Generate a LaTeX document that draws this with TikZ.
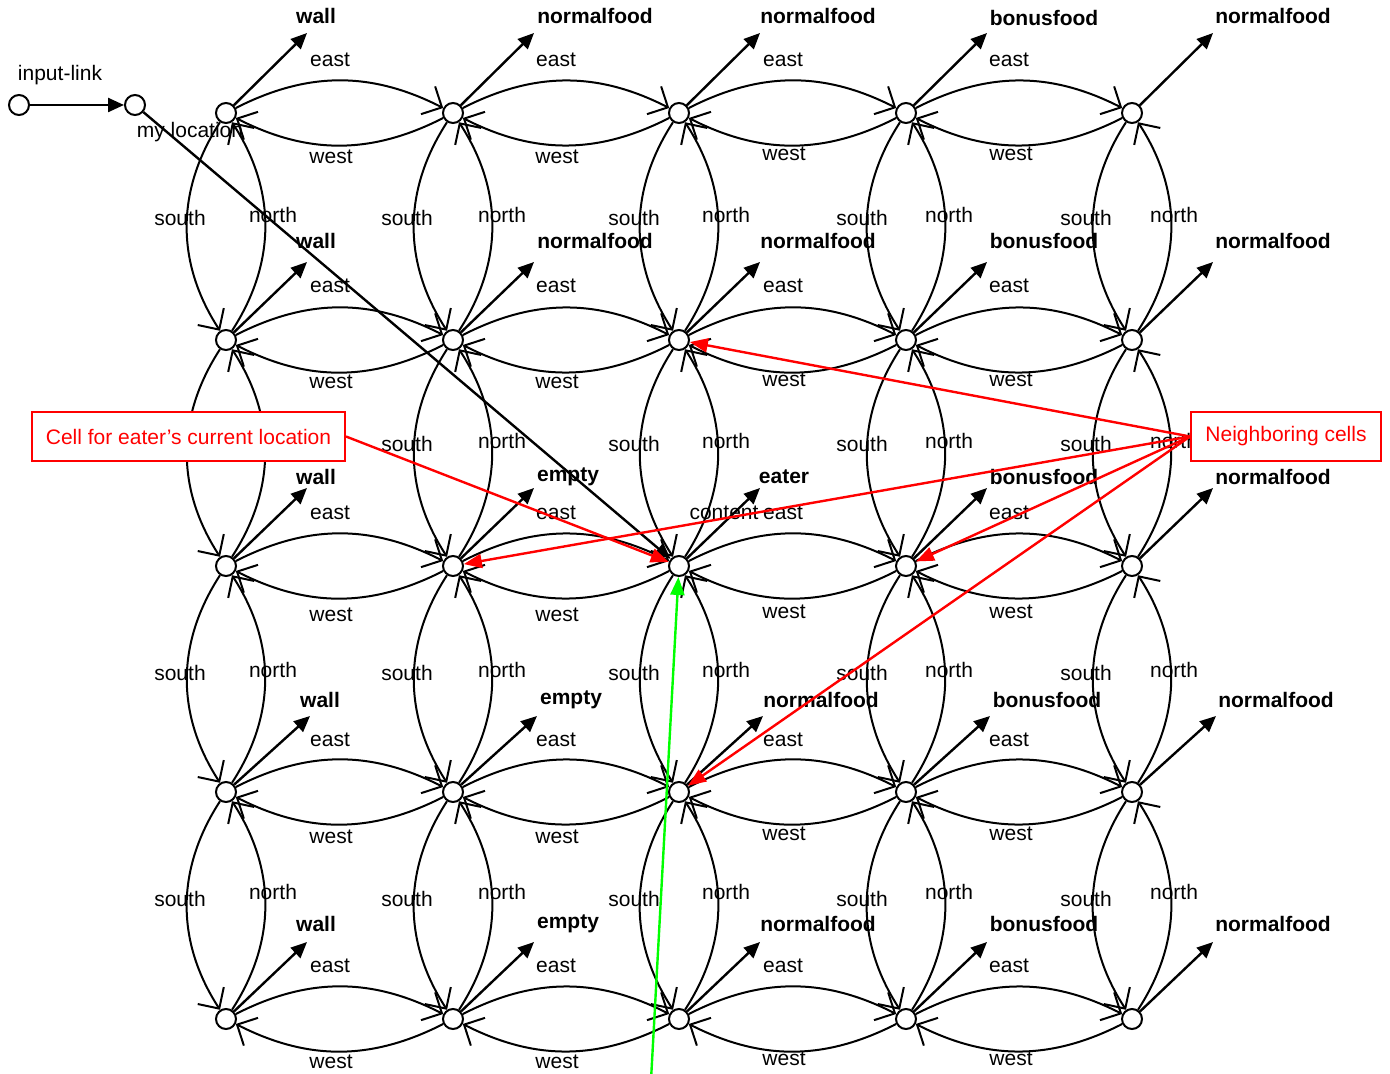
\documentclass[tikz,border=0pt]{standalone}
\usepackage{fontspec}
\setmainfont{Liberation Sans}
\usetikzlibrary{arrows.meta,calc}
\pgfdeclarelayer{background}
\pgfsetlayers{background,main}
\definecolor{annred}{RGB}{255,0,0}
\definecolor{anngreen}{RGB}{0,255,0}
\begin{document}
\begin{tikzpicture}[x=0.5pt,y=-0.5pt,
  cell/.style={circle,draw,fill=white,line width=1pt,minimum size=10pt,inner sep=0pt},
  link/.style={line width=1pt,-{Straight Barb[angle=90:11pt]}},
  valarrow/.style={line width=1.2pt,-{Triangle[length=8pt,width=7pt]}},
  lbl/.style={font=\fontsize{10.5}{12}\selectfont,inner sep=0pt},
  val/.style={font=\fontsize{10.5}{12}\selectfont\bfseries,inner sep=0pt},
  annbox/.style={draw=annred,fill=white,line width=1pt,text=annred,font=\fontsize{10.5}{12}\selectfont,minimum height=24.5pt,inner sep=0pt},
  annarrow/.style={draw=annred,line width=1.2pt,-{Triangle[length=9pt,width=7pt]},annred},
  greenarrow/.style={draw=anngreen,line width=1.2pt,-{Triangle[length=9pt,width=7pt]},anngreen}
]
\useasboundingbox (0,0) rectangle (1390,1074);
% grid cells
\foreach \ra/\yy in {1/113,2/340,3/566,4/792,5/1019}{
  \foreach \ca/\xx in {1/226,2/453,3/679,4/906,5/1132}{
    \node[cell] (g\ra\ca) at (\xx,\yy) {};
  }
}
% input link and my location
\node[cell] (in) at (19,105) {};
\node[cell] (myloc) at (135,105) {};
\node[lbl] (inlbl) at (60,75) {input-link};
\node[lbl] (myloclbl) at (190,132) {my location};
\begin{pgfonlayer}{background}
\foreach \ra in {1,2,3,4,5}{
  \foreach \ca in {1,2,3,4}{
    \pgfmathtruncatemacro{\cb}{\ca+1}
    \draw[link] (g\ra\ca) to[bend left=27] (g\ra\cb);
    \draw[link] (g\ra\cb) to[bend left=27] (g\ra\ca);
  }
}
\foreach \ra in {1,2,3,4}{
  \foreach \ca in {1,2,3,4,5}{
    \pgfmathtruncatemacro{\rb}{\ra+1}
    \draw[link] (g\ra\ca) to[bend right=33] (g\rb\ca);
    \draw[link] (g\rb\ca) to[bend right=33] (g\ra\ca);
  }
}
\end{pgfonlayer}
% value arrows
\foreach \ra/\dx/\dy in {1/81/-80,2/81/-78,3/81/-78,4/84/-76,5/81/-77}{
  \foreach \ca in {1,2,3,4,5}{
    \coordinate (t\ra\ca) at ($(g\ra\ca)+(\dx,\dy)$);
    \draw[valarrow] (g\ra\ca) -- (t\ra\ca);
  }
}
% value labels
\foreach \xx/\yy/\txt [count=\ii] in {316/16/wall,595/16/normalfood,818/16/normalfood,1044/18/bonusfood,1273/16/normalfood,316/241/wall,595/241/normalfood,818/241/normalfood,1044/241/bonusfood,1273/241/normalfood,316/477/wall,568/477/empty,784/477/eater,1044/477/bonusfood,1273/477/normalfood,320/700/wall,571/700/empty,821/700/normalfood,1047/700/bonusfood,1276/700/normalfood,316/924/wall,568/924/empty,818/924/normalfood,1044/924/bonusfood,1273/924/normalfood}{
  \node[val] (v\ii) at (\xx,\yy) {\txt};
}
\node[lbl] (contentlbl) at (724,513) {content};
% east labels
\foreach \yy [count=\ii] in {60,286,513,740,966}{
  \foreach \xx [count=\jj] in {330,556,783,1009}{
    \node[lbl] (e\ii\jj) at (\xx,\yy) {east};
  }
}
% west labels
\foreach \ya/\yb [count=\ii] in {157/154,382/380,615/612,837/834,1062/1059}{
  \node[lbl] (w\ii a) at (331,\ya) {west};
  \node[lbl] (w\ii b) at (557,\ya) {west};
  \node[lbl] (w\ii c) at (784,\yb) {west};
  \node[lbl] (w\ii d) at (1011,\yb) {west};
}
% south / north labels
\foreach \ys/\yn [count=\ii] in {218/215,444/441,673/670,899/892}{
  \ifnum\ii=2\else
  \node[lbl] (s\ii a) at (180,\ys) {south};
  \node[lbl] (n\ii a) at (273,\yn) {north};
  \fi
  \node[lbl] (s\ii b) at (407,\ys) {south};
  \node[lbl] (n\ii b) at (502,\yn) {north};
  \node[lbl] (s\ii c) at (634,\ys) {south};
  \node[lbl] (n\ii c) at (726,\yn) {north};
  \node[lbl] (s\ii d) at (862,\ys) {south};
  \node[lbl] (n\ii d) at (949,\yn) {north};
  \node[lbl] (s\ii e) at (1086,\ys) {south};
  \node[lbl] (n\ii e) at (1174,\yn) {north};
}
% input-link and my location arrows
\draw[valarrow] (in) -- (myloc);
\draw[valarrow] (myloc) -- (g33);
% annotations
\node[annbox,minimum width=156.5pt] (cellbox) at (188.5,436.5) {Cell for eater’s current location};
\node[annbox,minimum width=95pt] (nbbox) at (1286,436.5) {Neighboring cells};
\draw[annarrow] (cellbox.east) -- (g33);
\draw[annarrow] (nbbox.west) -- (g23);
\draw[annarrow] (nbbox.west) -- (g32);
\draw[annarrow] (nbbox.west) -- (g34);
\draw[annarrow] (nbbox.west) -- (g43);
\coordinate (gstart) at (651,1080);
\draw[greenarrow] (gstart) -- (g33);
\end{tikzpicture}
\end{document}
